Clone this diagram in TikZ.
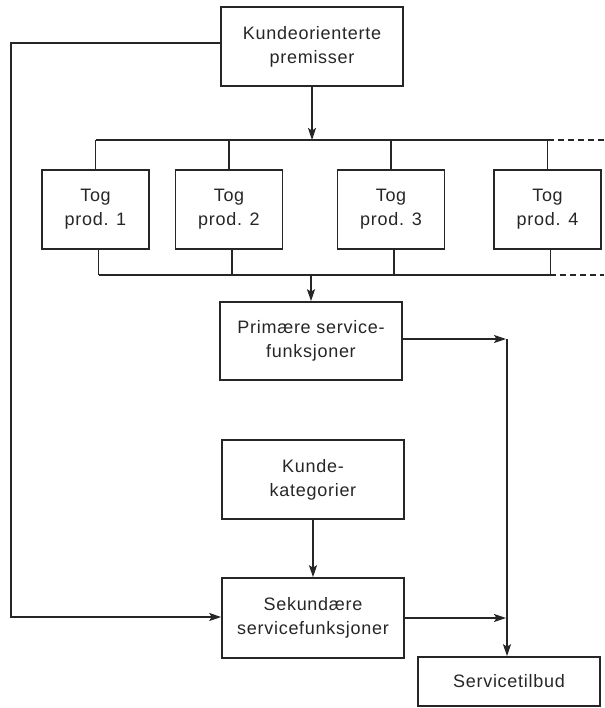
\documentclass[tikz,border=0pt]{standalone}
\usepackage{fontspec}
\setmainfont{Liberation Sans}[LetterSpace=4]
\usetikzlibrary{arrows.meta}
\begin{document}
\begin{tikzpicture}[x=1pt,y=-1pt,
  line width=1.6pt, draw=black!85,
  box/.style={draw=black!85, line width=1.6pt, align=center, inner sep=0pt,
    font=\fontsize{18}{24}\selectfont, text=black!85},
  wide/.style={box, minimum width=182pt, minimum height=79pt},
  tog/.style={box, minimum width=107pt, minimum height=79pt},
  flow/.style={-{Stealth[length=12pt,width=8pt,inset=2.5pt]}},
  bus/.style={line width=1.6pt},
  busdash/.style={line width=1.6pt, dash pattern=on 6pt off 4pt}]
  \useasboundingbox (0,0) rectangle (604,708);

  % boxes
  \node[wide] (prem) at (312,46.5) {Kundeorienterte\\premisser};
  \node[tog] (t1) at (95.5,209.5) {Tog\\prod. 1};
  \node[tog] (t2) at (229,209.5) {Tog\\prod. 2};
  \node[tog] (t3) at (391,209.5) {Tog\\prod. 3};
  \node[tog] (t4) at (547.5,209.5) {Tog\\prod. 4};
  \node[wide, minimum height=78pt] (prim) at (311,341) {Primære service-\\funksjoner};
  \node[wide] (kat) at (313,479.5) {Kunde-\\kategorier};
  \node[wide, minimum height=80pt] (sek) at (313,618) {Sekundære\\servicefunksjoner};
  \node[wide, minimum height=49pt] (tilbud) at (509,681.5) {Servicetilbud};

  % distribution bus above the train products
  \coordinate (topL) at (t1.center |- 0,140);
  \coordinate (topR) at (t4.center |- 0,140);
  \coordinate (topE) at (604,140);
  \draw[flow] (prem.south) -- (prem.south |- topL);
  \draw[bus] (topL) -- (topR);
  \draw[busdash] (topR) -- (topE);
  \foreach \t in {t1,t2,t3,t4} \draw[bus] (\t.center |- topL) -- (\t.north);

  % collecting bus below the train products
  \coordinate (botL) at ([xshift=3pt]t1.center |- 0,275);
  \coordinate (botR) at ([xshift=2pt]t4.center |- 0,275);
  \coordinate (botE) at (604,275);
  \draw[bus] (botL) -- (botR);
  \draw[busdash] (botR) -- (botE);
  \foreach \t in {t1,t2,t3,t4} \draw[bus] ([xshift=3pt]\t.south) -- ([xshift=3pt]\t.center |- botL);
  \draw[flow] (prim.north |- botL) -- (prim.north);

  % feedback line on the left
  \coordinate (lt) at (11,43);
  \coordinate (lb) at (11,617);
  \draw[flow] (prem.west |- lt) -- (lt) -- (lb) -- (sek.west |- lb);

  % towards the service offer
  \coordinate (jp) at (507,339);
  \coordinate (js) at (507,618);
  \draw[flow] (prim.east |- jp) -- ([xshift=-1pt]jp);
  \draw[flow] (jp) -- (jp |- tilbud.north);
  \draw[flow] (sek.east |- js) -- ([xshift=-1pt]js);
  \draw[flow] (kat.south) -- (kat.south |- sek.north);
\end{tikzpicture}
\end{document}
